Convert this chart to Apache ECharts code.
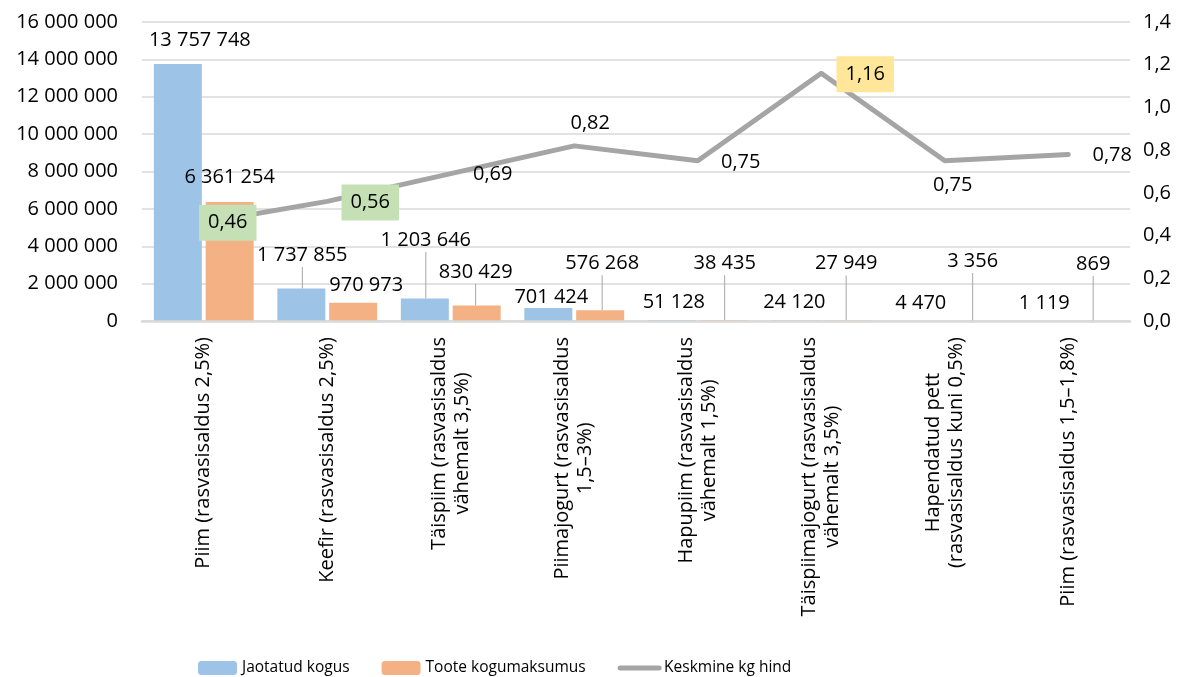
<!DOCTYPE html>
<html>
<head>
<meta charset="utf-8">
<script src="https://cdn.jsdelivr.net/npm/echarts@6/dist/echarts.min.js"></script>
<style>
html,body{margin:0;padding:0;background:#fff;}
#chart{width:1184px;height:677px;}
</style>
</head>
<body>
<div id="chart"></div>
<script>
// ---- data ----
var categories = [
  'Piim (rasvasisaldus 2,5%)',
  'Keefir (rasvasisaldus 2,5%)',
  'Täispiim (rasvasisaldus\nvähemalt 3,5%)',
  'Piimajogurt (rasvasisaldus\n1,5–3%)',
  'Hapupiim (rasvasisaldus\nvähemalt 1,5%)',
  'Täispiimajogurt (rasvasisaldus\nvähemalt 3,5%)',
  'Hapendatud pett\n(rasvasisaldus kuni 0,5%)',
  'Piim (rasvasisaldus 1,5–1,8%)'
];
var jaotatudKogus = [13757748, 1737855, 1203646, 701424, 51128, 24120, 4470, 1119];
var tooteKogumaksumus = [6361254, 970973, 830429, 576268, 38435, 27949, 3356, 869];
var keskmineKgHind = [0.46, 0.56, 0.69, 0.82, 0.75, 1.16, 0.75, 0.78];
var seriesNames = ['Jaotatud kogus', 'Toote kogumaksumus', 'Keskmine kg hind'];

// ---- label placement (styles, not data) ----
var blueLabelOff = [[22,-24],[1,-33.5],[1,-58.5],[3,-11],[2,-18],[-1,-18],[2,-18],[2,-18]];
var blueLeader   = [false,true,true,false,false,false,false,false];
var orangeLabelOff = [[0,-25],[13,-18],[-1,-33.5],[2,-47],[1,-57],[-1,-57],[2,-60],[-1,-57]];
var orangeLeader   = [false,false,true,true,true,true,true,true];
var lineLabelOff = [[24,0],[43,1],[42,1],[16,-23],[43,1],[44,1],[8,24],[44,1]];
var lineLabelBg  = ['#C5E0B4','#C5E0B4',null,null,null,'#FFE699',null,null];

var FONT = "'Open Sans', 'Noto Sans', sans-serif";

function fmtInt(v){
  return String(Math.round(v)).replace(/\B(?=(\d{3})+(?!\d))/g, ' ');
}

function barData(vals, leaders){
  return vals.map(function(v,i){
    return { value: v, labelLine: { show: leaders[i] } };
  });
}
function lineData(vals){
  return vals.map(function(v,i){
    var lab = { offset: lineLabelOff[i] };
    if (lineLabelBg[i]) { lab.backgroundColor = lineLabelBg[i]; lab.padding = [6, 9, 6, 9]; }
    return { value: v, label: lab };
  });
}
function barLayout(offs){
  return function(p){
    var o = offs[p.dataIndex];
    return {
      x: p.rect.x + p.rect.width/2 + o[0],
      y: p.rect.y + o[1],
      align: 'center',
      verticalAlign: 'middle'
    };
  };
}

var chart = echarts.init(document.getElementById('chart'));
var option = {
  animation: false,
  backgroundColor: '#fff',
  textStyle: { fontFamily: FONT },
  grid: { left: 142, right: 54, top: 22, height: 299 },
  legend: {
    data: [
      { name: seriesNames[0] },
      { name: seriesNames[1] },
      { name: seriesNames[2], itemStyle: { opacity: 0 },
        lineStyle: { width: 5, cap: 'round', color: '#A5A5A5' } }
    ],
    left: 198,
    top: 660,
    padding: 0,
    itemWidth: 39,
    itemHeight: 14,
    itemGap: 32,
    textStyle: { fontFamily: FONT, fontSize: 15.5, color: '#000' }
  },
  xAxis: {
    type: 'category',
    data: categories,
    z: 3,
    axisLine: { lineStyle: { color: '#D9D9D9', width: 2.5 } },
    axisTick: { show: false },
    axisLabel: {
      interval: 0,
      rotate: 90,
      margin: 16,
      color: '#000',
      fontFamily: FONT,
      fontSize: 20,
      formatter: function(v){
        return v.split('\n').map(function(l){ return '{c|' + l + '}'; }).join('\n');
      },
      rich: { c: { align: 'center', fontFamily: FONT, fontSize: 20, lineHeight: 23, color: '#000' } }
    }
  },
  yAxis: [
    {
      type: 'value', min: 0, max: 16000000, interval: 2000000,
      axisLine: { show: false }, axisTick: { show: false },
      splitLine: { lineStyle: { color: '#D9D9D9', width: 1.5 } },
      axisLabel: { margin: 24, color: '#000', fontFamily: FONT, fontSize: 20, formatter: fmtInt }
    },
    {
      type: 'value', min: 0, max: 1.4, interval: 0.2, position: 'right',
      axisLine: { show: false }, axisTick: { show: false },
      splitLine: { show: false },
      axisLabel: { margin: 13, color: '#000', fontFamily: FONT, fontSize: 20,
        formatter: function(v){ return v.toFixed(1).replace('.', ','); } }
    }
  ],
  series: [
    {
      name: seriesNames[0], type: 'bar', yAxisIndex: 0,
      data: barData(jaotatudKogus, blueLeader),
      barWidth: 48, barGap: '8%',
      itemStyle: { color: '#9DC3E6' },
      label: { show: true, position: 'top', color: '#000', fontFamily: FONT, fontSize: 20, lineHeight: 24,
        formatter: function(p){ return fmtInt(p.value); } },
      labelLine: { show: true, lineStyle: { color: '#A6A6A6', width: 1 } },
      labelLayout: barLayout(blueLabelOff),
      z: 2
    },
    {
      name: seriesNames[1], type: 'bar', yAxisIndex: 0,
      data: barData(tooteKogumaksumus, orangeLeader),
      barWidth: 48, barGap: '8%',
      itemStyle: { color: '#F4B183' },
      label: { show: true, position: 'top', color: '#000', fontFamily: FONT, fontSize: 20, lineHeight: 24,
        formatter: function(p){ return fmtInt(p.value); } },
      labelLine: { show: true, lineStyle: { color: '#A6A6A6', width: 1 } },
      labelLayout: barLayout(orangeLabelOff),
      z: 2
    },
    {
      name: seriesNames[2], type: 'line', yAxisIndex: 1,
      data: lineData(keskmineKgHind),
      symbol: 'circle', symbolSize: 1, showSymbol: true,
      itemStyle: { color: '#A5A5A5' },
      lineStyle: { color: '#A5A5A5', width: 5, cap: 'round', join: 'round' },
      label: { show: true, position: 'inside', color: '#000', fontFamily: FONT, fontSize: 20, lineHeight: 24,
        formatter: function(p){ return p.value.toFixed(2).replace('.', ','); } },
      z: 5
    }
  ]
};
chart.setOption(option);
</script>
</body>
</html>
